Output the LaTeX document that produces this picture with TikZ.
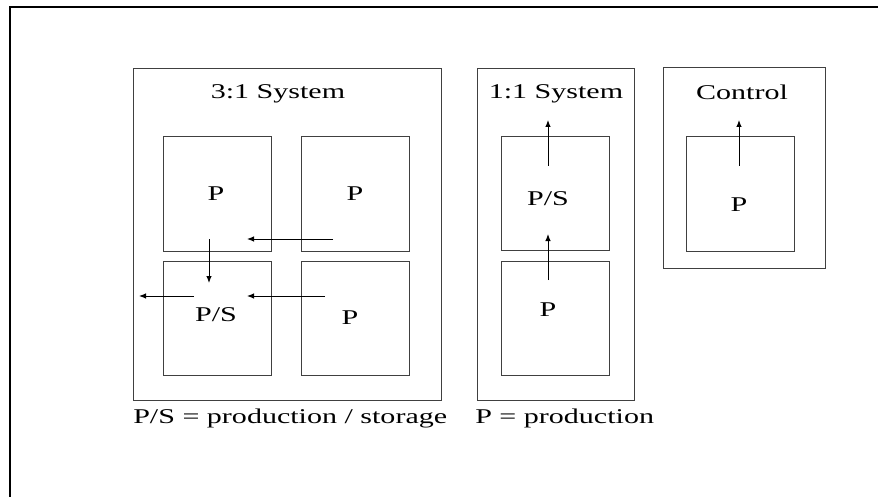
\documentclass[tikz,border=0pt]{standalone}
\usepackage{fontspec}
\setmainfont{Liberation Serif}
\usetikzlibrary{arrows.meta, positioning}

\begin{document}
\begin{tikzpicture}[
    x=1pt, y=-1pt,
    frame/.style={draw=black!75, line width=1pt, minimum width=#1},
    system/.style={frame=157pt, minimum height=331pt, inner sep=0pt},
    unit/.style={draw=black!75, line width=1pt, minimum width=108pt, minimum height=114pt, inner sep=0pt},
    txt/.style={font=\fontsize{21}{25}\selectfont, xscale=1.43, inner sep=0pt},
    flow/.style={-{Latex[length=7pt, width=5.5pt]}, line width=1pt}
]
\useasboundingbox (0,0) rectangle (878,497);
\draw[line width=2.3pt] (10,497) -- (10,7) -- (878,7);

% outer boxes
\node[system, minimum width=308pt] (sysA) at (287,234.5) {};
\node[system] (sysB) at (556,234.5) {};
\node[frame=162pt, minimum height=200pt, inner sep=0pt] (ctrl) at (744,168) {};

\node[txt] (tA) at (278,94) {3:1 System};
\node[txt] (tB) at (556,94) {1:1 System};
\node[txt] (tC) at (742,92) {Control};

% units
\node[unit] (a1) at (217,194) {};
\node[unit] (a2) at (355.5,194) {};
\node[unit] (a3) at (217,318.5) {};
\node[unit] (a4) at (355.5,318.5) {};
\node[unit] (b1) at (555.5,193.5) {};
\node[unit] (b2) at (555.5,318.5) {};
\node[unit] (c1) at (740,194) {};

\node[txt] (la1) at (216,194) {P};
\node[txt] (la2) at (355,194) {P};
\node[txt] (la3) at (216,315) {P/S};
\node[txt] (la4) at (350,318) {P};
\node[txt] (lb1) at (548,199) {P/S};
\node[txt] (lb2) at (548,310) {P};
\node[txt] (lc1) at (739,205) {P};

% arrow ends
\coordinate (p1) at (333,239);
\coordinate (q1) at (247,239);
\coordinate (p2) at (209,239);
\coordinate (q2) at (209,283);
\coordinate (p3) at (325,296);
\coordinate (q3) at (247,296);
\coordinate (p4) at (194,296);
\coordinate (q4) at (139,296);
\coordinate (p5) at (548,166);
\coordinate (q5) at (548,120);
\coordinate (p6) at (548,280);
\coordinate (q6) at (548,234);
\coordinate (p7) at (739,166);
\coordinate (q7) at (739,120);

\draw[flow] (p1) -- (q1);
\draw[flow] (p2) -- (q2);
\draw[flow] (p3) -- (q3);
\draw[flow] (p4) -- (q4);
\draw[flow] (p5) -- (q5);
\draw[flow] (p6) -- (q6);
\draw[flow] (p7) -- (q7);

% legend
\node[txt, anchor=west] (key1) at (133,418) {P/S = production / storage};
\node[txt, anchor=west] (key2) at (475,418) {P = production};
\end{tikzpicture}
\end{document}
